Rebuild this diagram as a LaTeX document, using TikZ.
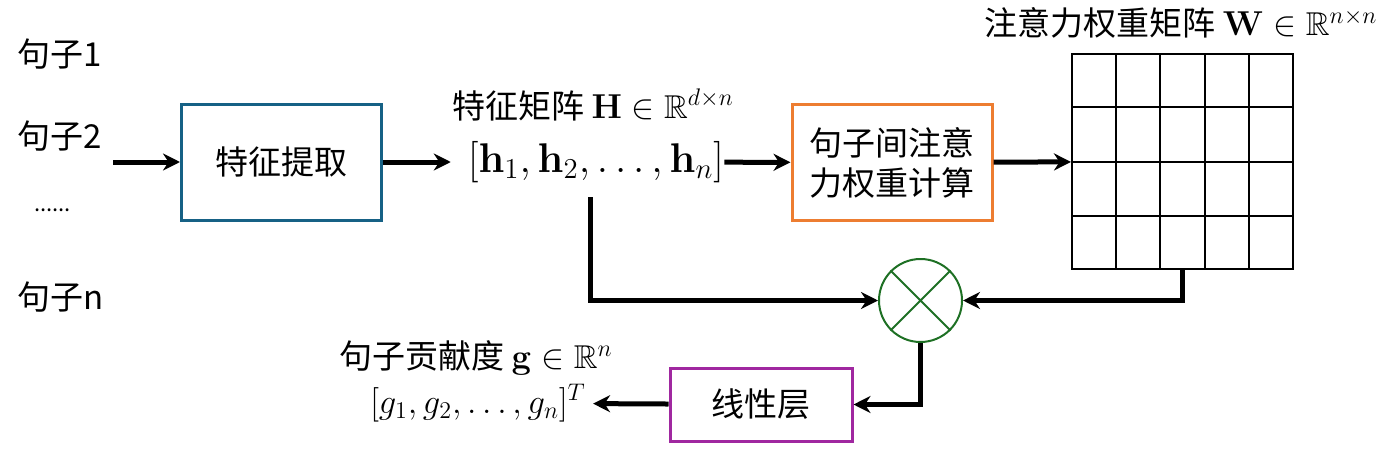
\documentclass[tikz,border=0pt]{standalone}
\usepackage{amsmath,amssymb}
\usepackage[no-math]{fontspec}
\setmainfont{Noto Sans CJK SC}
\usepackage{xcolor}
\definecolor{featblue}{RGB}{22,97,133}
\definecolor{attnorange}{RGB}{237,125,49}
\definecolor{mulgreen}{RGB}{30,112,36}
\definecolor{linpurple}{RGB}{160,40,160}
\usepackage{tikz}
\usetikzlibrary{positioning,arrows.meta,calc}

\begin{document}
\begin{tikzpicture}[x=0.5pt,y=-0.5pt,
  box/.style={draw,line width=1.5pt,inner sep=0pt,align=center,
              font=\fontsize{16.5}{20}\selectfont},
  flow/.style={line width=2.5pt,-{Stealth[length=8.5pt,width=8.5pt]}},
  lbl/.style={inner sep=0pt,font=\fontsize{16.5}{20}\selectfont}]
\useasboundingbox (0,0) rectangle (1380,455);

% sentences
\node[lbl,anchor=west] (s1) at (17,54) {句子1};
\node[lbl,anchor=west] (s2) at (17,136) {句子2};
\node[lbl,anchor=west,font=\fontsize{11}{13}\selectfont] (sdots) at (34,210) {......};
\node[lbl,anchor=west] (sn) at (17,297) {句子n};
\coordinate (in) at (113,162);

% feature extraction
\node[box,draw=featblue,minimum width=100pt,minimum height=58pt] (extract) at (281.5,162) {特征提取};
\node[inner sep=0pt,font=\fontsize{21.5}{26}\selectfont] (hvec) at (596,162)
  {$[\mathbf{h}_1,\mathbf{h}_2,\ldots,\mathbf{h}_n]$};
\node[lbl] (hlabel) at (593,105) {特征矩阵 $\mathbf{H}\in\mathbb{R}^{d\times n}$};
\coordinate (hdown) at (590,197);

% attention
\node[box,draw=attnorange,minimum width=100pt,minimum height=58pt] (attn) at (892,162.5) {句子间注意\\力权重计算};
\node[draw,line width=1pt,minimum width=110.5pt,minimum height=107.5pt,inner sep=0pt] (wmat) at (1182.5,161.5) {};
\foreach \i in {1,...,4}
  \draw[line width=1pt] ($(wmat.north west)!\i/5!(wmat.north east)$) -- ($(wmat.south west)!\i/5!(wmat.south east)$);
\foreach \j in {1,2,3}
  \draw[line width=1pt] ($(wmat.north west)!\j/4!(wmat.south west)$) -- ($(wmat.north east)!\j/4!(wmat.south east)$);
\node[lbl] (wlabel) at (1181,23) {注意力权重矩阵 $\mathbf{W}\in\mathbb{R}^{n\times n}$};

% product and output
\node[circle,draw=mulgreen,line width=1pt,minimum size=41.5pt,inner sep=0pt] (mul) at (920.5,300.5) {};
\draw[mulgreen,line width=1pt] (mul.north west) -- (mul.south east) (mul.north east) -- (mul.south west);
\node[box,draw=linpurple,minimum width=91pt,minimum height=36.5pt] (linear) at (761,404.5) {线性层};
\node[inner sep=0pt,font=\fontsize{18}{22}\selectfont] (gvec) at (478,403) {$[g_1,g_2,\ldots,g_n]^T$};
\node[lbl] (glabel) at (476,358) {句子贡献度 $\mathbf{g}\in\mathbb{R}^{n}$};

% connectors
\draw[flow] (in) -- (extract);
\draw[flow,shorten >=8.5pt] (extract) -- (hvec);
\draw[flow] (hvec) -- (attn);
\draw[flow] (attn) -- (wmat);
\draw[flow] (hdown) |- (mul.west);
\draw[flow] (wmat.south) |- (mul.east);
\draw[flow] (mul.south) |- (linear.east);
\draw[flow,shorten >=3.5pt] (linear) -- (gvec);
\end{tikzpicture}
\end{document}
